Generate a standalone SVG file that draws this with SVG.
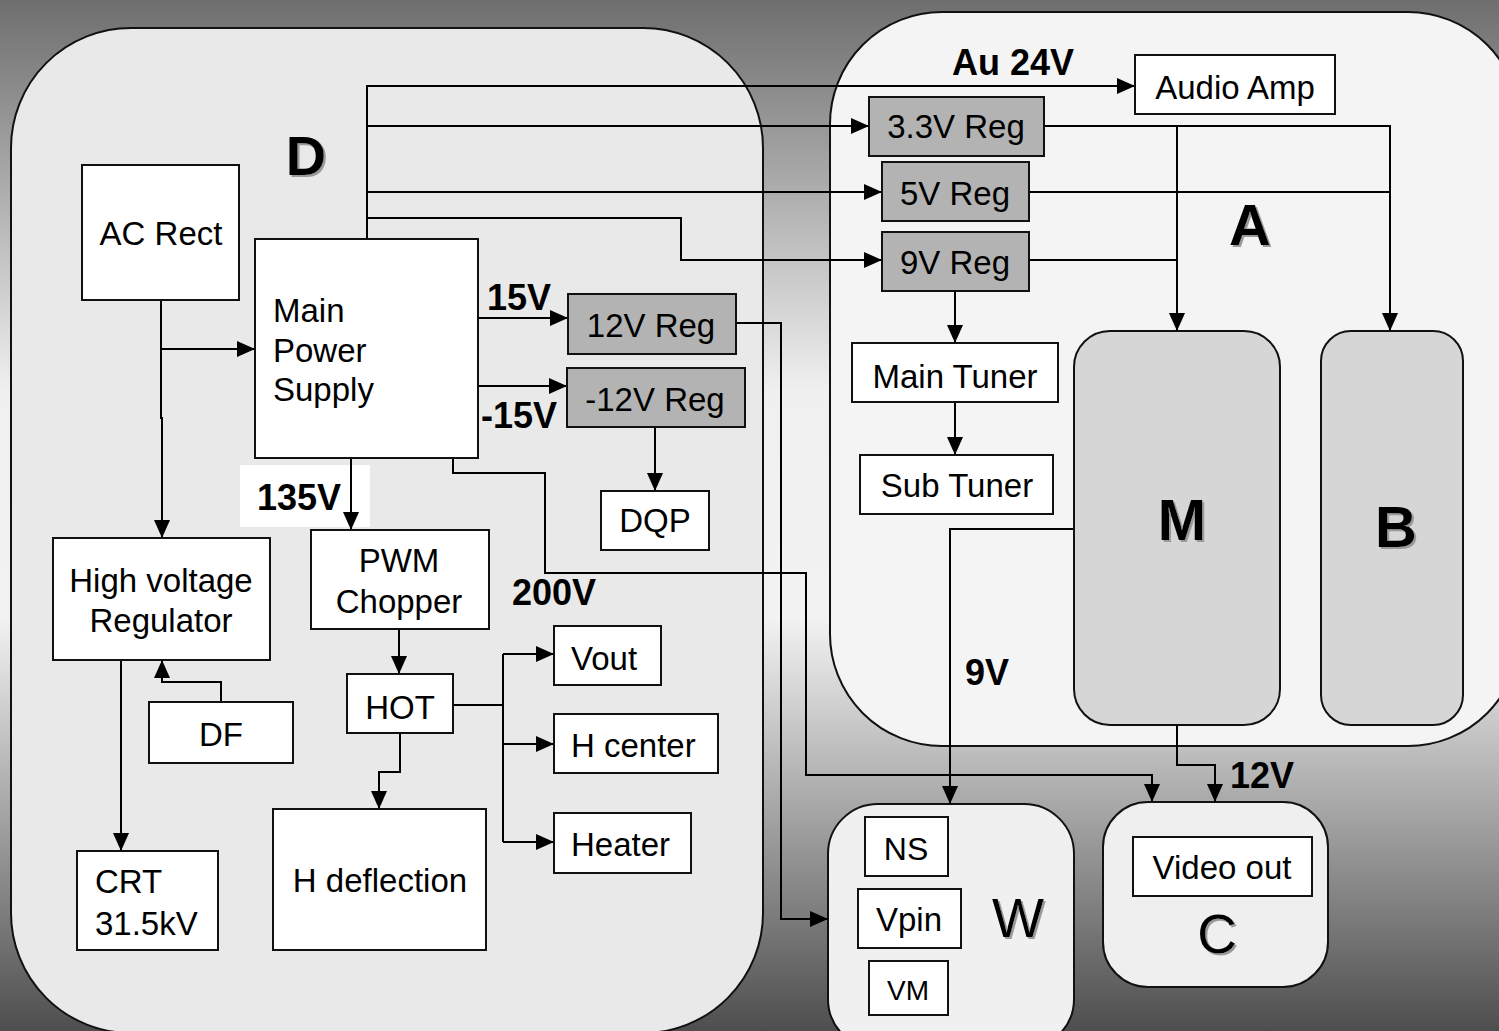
<svg xmlns="http://www.w3.org/2000/svg" width="1499" height="1031" viewBox="0 0 1499 1031">
<defs>
<linearGradient id="bg" x1="0" y1="0" x2="0" y2="1">
<stop offset="0" stop-color="#6e6e6e"/>
<stop offset="0.38" stop-color="#f0f0f0"/>
<stop offset="0.6" stop-color="#f2f2f2"/>
<stop offset="1" stop-color="#4e4e4e"/>
</linearGradient>
<marker id="ah" viewBox="0 0 18 16" refX="18" refY="8" markerWidth="18" markerHeight="16" markerUnits="userSpaceOnUse" orient="auto">
<path d="M0,0 L18,8 L0,16 z" fill="#000"/>
</marker>
<filter id="sh" x="-20%" y="-20%" width="140%" height="140%">
<feDropShadow dx="2" dy="2" stdDeviation="0.6" flood-color="#9a9a9a" flood-opacity="1"/>
</filter>
</defs>
<style>
.region{stroke:#111;stroke-width:2}
.box{fill:#fff;stroke:#111;stroke-width:2}
.reg{fill:#b3b3b3;stroke:#111;stroke-width:2}
.blk{fill:#d6d6d6;stroke:#111;stroke-width:2}
.t{font-family:"Liberation Sans",Arial,sans-serif;font-size:33px;fill:#000}
.c{text-anchor:middle}
.v{font-family:"Liberation Sans",Arial,sans-serif;font-size:36px;font-weight:bold;fill:#000}
.big{font-family:"Liberation Sans",Arial,sans-serif;font-size:58px;font-weight:bold;fill:#000;text-anchor:middle;filter:url(#sh)}
.bigr{font-family:"Liberation Sans",Arial,sans-serif;font-size:55px;fill:#000;text-anchor:middle;filter:url(#sh)}
.ln{fill:none;stroke:#000;stroke-width:2}
.ar{marker-end:url(#ah)}
</style>
<rect x="0" y="0" width="1499" height="1031" fill="url(#bg)"/>

<g id="regions">
<rect id="region-D" class="region" x="11" y="28" width="752" height="1005" rx="120" ry="120" fill="#e9e9e9"/>
<rect id="region-A" class="region" x="830" y="12" width="690" height="734" rx="112" ry="112" fill="#f4f4f4"/>
<rect id="region-W" class="region" x="828" y="804" width="246" height="245" rx="50" ry="50" fill="#f0f0f0"/>
<rect id="region-C" class="region" x="1103" y="802" width="225" height="185" rx="45" ry="45" fill="#efefef"/>
</g>

<rect x="240" y="465" width="130" height="62" fill="#fff"/>

<g id="connectors">
<path class="ln ar" d="M367,239 V86 H1135"/>
<path class="ln ar" d="M367,126 H869"/>
<path class="ln ar" d="M367,192 H882"/>
<path class="ln ar" d="M367,218 H681 V260 H882"/>
<path class="ln ar" d="M161,300 V418 H162 V538"/>
<path class="ln ar" d="M161,349 H255"/>
<path class="ln ar" d="M478,318 H568"/>
<path class="ln ar" d="M478,386 H567"/>
<path class="ln ar" d="M655,427 V491"/>
<path class="ln ar" d="M736,323 H781 V919 H828"/>
<path class="ln ar" d="M453,458 V473 H545 V573 H806 V775 H1152 V802"/>
<path class="ln ar" d="M351,458 V530"/>
<path class="ln ar" d="M399,629 V674"/>
<path class="ln" d="M453,705 H503 M503,654 V842"/>
<path class="ln ar" d="M503,654 H554"/>
<path class="ln ar" d="M503,744 H554"/>
<path class="ln ar" d="M503,842 H554"/>
<path class="ln ar" d="M400,733 V772 H379 V809"/>
<path class="ln ar" d="M121,660 V851"/>
<path class="ln ar" d="M221,702 V682 H162 V660"/>
<path class="ln ar" d="M955,291 V343"/>
<path class="ln ar" d="M955,402 V455"/>
<path class="ln ar" d="M1044,126 H1390 V331"/>
<path class="ln ar" d="M1177,126 V331"/>
<path class="ln" d="M1029,192 H1390"/>
<path class="ln" d="M1029,260 H1177"/>
<path class="ln ar" d="M1074,529 H950 V804"/>
<path class="ln ar" d="M1177,725 V765 H1215 V802"/>
</g>

<g id="node-ac-rect"><rect class="box" x="82" y="165" width="157" height="135"/><text class="t c" x="161" y="245">AC Rect</text></g>
<g id="node-main-ps"><rect class="box" x="255" y="239" width="223" height="219"/><text class="t" x="273" y="322">Main</text><text class="t" x="273" y="362">Power</text><text class="t" x="273" y="401">Supply</text></g>
<g id="node-12v-reg"><rect class="reg" x="568" y="294" width="168" height="60"/><text class="t c" x="651" y="337">12V Reg</text></g>
<g id="node-m12v-reg"><rect class="reg" x="567" y="368" width="178" height="59"/><text class="t c" x="655" y="411">-12V Reg</text></g>
<g id="node-dqp"><rect class="box" x="601" y="491" width="108" height="59"/><text class="t c" x="655" y="532">DQP</text></g>
<g id="node-hv-reg"><rect class="box" x="53" y="538" width="217" height="122"/><text class="t c" x="161" y="592">High voltage</text><text class="t c" x="161" y="632">Regulator</text></g>
<g id="node-pwm"><rect class="box" x="311" y="530" width="178" height="99"/><text class="t c" x="399" y="572">PWM</text><text class="t c" x="399" y="613">Chopper</text></g>
<g id="node-hot"><rect class="box" x="347" y="674" width="106" height="59"/><text class="t c" x="400" y="719">HOT</text></g>
<g id="node-df"><rect class="box" x="149" y="702" width="144" height="61"/><text class="t c" x="221" y="746">DF</text></g>
<g id="node-crt"><rect class="box" x="77" y="851" width="141" height="99"/><text class="t" x="95" y="893">CRT</text><text class="t" x="95" y="935">31.5kV</text></g>
<g id="node-hdefl"><rect class="box" x="273" y="809" width="213" height="141"/><text class="t c" x="380" y="892">H deflection</text></g>
<g id="node-vout"><rect class="box" x="554" y="626" width="107" height="59"/><text class="t" x="571" y="670">Vout</text></g>
<g id="node-hcenter"><rect class="box" x="554" y="714" width="164" height="59"/><text class="t" x="571" y="757">H center</text></g>
<g id="node-heater"><rect class="box" x="554" y="813" width="137" height="60"/><text class="t" x="571" y="856">Heater</text></g>

<g id="node-audio-amp"><rect class="box" x="1135" y="55" width="200" height="59"/><text class="t c" x="1235" y="99">Audio Amp</text></g>
<g id="node-3v3-reg"><rect class="reg" x="869" y="97" width="175" height="59"/><text class="t c" x="956" y="138">3.3V Reg</text></g>
<g id="node-5v-reg"><rect class="reg" x="882" y="162" width="147" height="59"/><text class="t c" x="955" y="205">5V Reg</text></g>
<g id="node-9v-reg"><rect class="reg" x="882" y="232" width="147" height="59"/><text class="t c" x="955" y="274">9V Reg</text></g>
<g id="node-main-tuner"><rect class="box" x="852" y="343" width="206" height="59"/><text class="t c" x="955" y="388">Main Tuner</text></g>
<g id="node-sub-tuner"><rect class="box" x="860" y="455" width="193" height="59"/><text class="t c" x="957" y="497">Sub Tuner</text></g>
<g id="node-M"><rect class="blk" x="1074" y="331" width="206" height="394" rx="36" ry="36"/><text class="big" x="1182" y="540">M</text></g>
<g id="node-B"><rect class="blk" x="1321" y="331" width="142" height="394" rx="30" ry="30"/><text class="big" x="1396" y="547">B</text></g>

<g id="node-ns"><rect class="box" x="865" y="817" width="83" height="59"/><text class="t c" x="906" y="860" style="font-size:32px">NS</text></g>
<g id="node-vpin"><rect class="box" x="858" y="889" width="103" height="59"/><text class="t c" x="909" y="931">Vpin</text></g>
<g id="node-vm"><rect class="box" x="869" y="961" width="79" height="54"/><text class="t c" x="908" y="1000" style="font-size:28px">VM</text></g>
<g id="node-video-out"><rect class="box" x="1133" y="837" width="179" height="59"/><text class="t c" x="1222" y="879">Video out</text></g>

<g id="labels">
<text class="big" x="306" y="175" style="font-size:56px">D</text>
<text class="big" x="1250" y="245">A</text>
<text class="bigr" x="1018" y="937">W</text>
<text class="bigr" x="1217" y="953">C</text>
<text class="v" x="952" y="75">Au 24V</text>
<text class="v" x="487" y="310">15V</text>
<text class="v" x="481" y="428">-15V</text>
<text class="v" x="257" y="510">135V</text>
<text class="v" x="512" y="605">200V</text>
<text class="v" x="965" y="685">9V</text>
<text class="v" x="1230" y="788">12V</text>
</g>
</svg>
